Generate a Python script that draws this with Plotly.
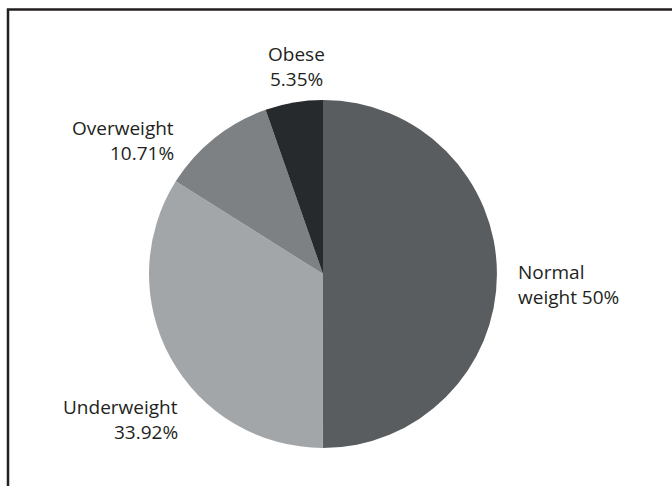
import plotly.graph_objects as go

categories = ["Normal weight", "Underweight", "Overweight", "Obese"]
values = [50, 33.92, 10.71, 5.35]
colors = ["#5a5d5f", "#a3a6a8", "#7e8183", "#272a2d"]
label_lines = [
    ["Normal", "weight 50%"],
    ["Underweight", "33.92%"],
    ["Overweight", "10.71%"],
    ["Obese", "5.35%"],
]

W, H = 672, 486
cx, cy, r = 323, 274, 174

fig = go.Figure(go.Pie(
    labels=categories,
    values=values,
    sort=False,
    direction="clockwise",
    rotation=0,
    marker=dict(colors=colors, line=dict(width=0)),
    textinfo="none",
    hoverinfo="label+percent",
    showlegend=False,
    domain=dict(x=[(cx - r) / W, (cx + r) / W], y=[1 - (cy + r) / H, 1 - (cy - r) / H]),
))

# label anchor positions (pixels) and alignment
label_pos = [
    (516, 272, "left"),
    (180, 407, "right"),
    (176, 128, "right"),
    (296, 54, "center"),
]
line_gap = 25
annotations = []
for lines, (lx, ly, al) in zip(label_lines, label_pos):
    for i, t in enumerate(lines):
        annotations.append(dict(
            x=lx / W, y=1 - (ly + i * line_gap) / H, xref="paper", yref="paper",
            text=t, showarrow=False, xanchor=al, yanchor="middle", align=al,
            font=dict(family="Open Sans", size=19, color="#231f20"),
        ))

fig.update_layout(
    width=W, height=H,
    margin=dict(l=0, r=0, t=0, b=0),
    paper_bgcolor="white",
    plot_bgcolor="white",
    annotations=annotations,
    shapes=[dict(
        type="rect", xref="paper", yref="paper",
        x0=8 / W, x1=1.05, y0=-0.05, y1=1 - 9.5 / H,
        line=dict(color="#231f20", width=2.5),
    )],
)

fig.write_html(
    "out.html",
    config={"displayModeBar": False},
    post_script="document.body.style.margin='0px';document.body.style.overflow='hidden';",
)
